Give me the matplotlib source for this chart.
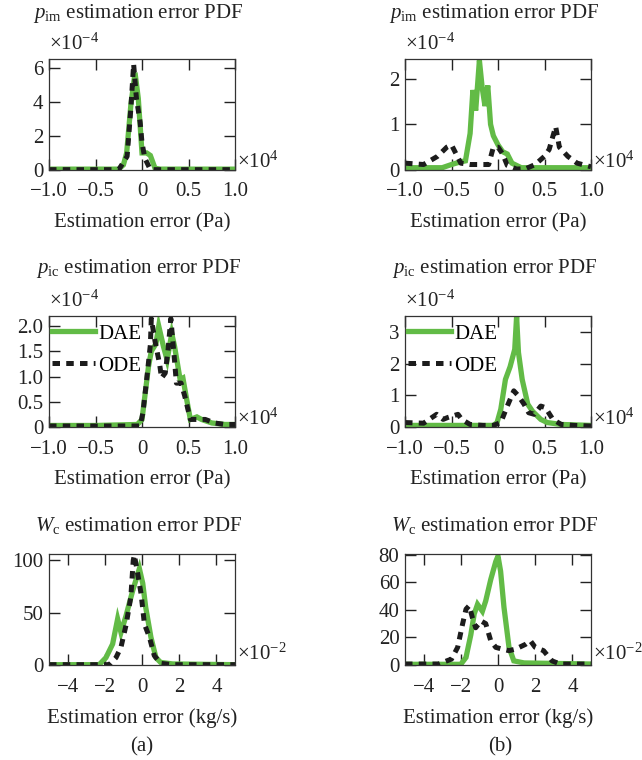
"""Estimation error PDFs, DAE vs ODE observer (panels a and b)."""

import matplotlib.pyplot as plt

plt.rcParams["font.family"] = ["Liberation Serif", "DejaVu Serif"]
plt.rcParams["mathtext.fontset"] = "custom"
plt.rcParams["mathtext.rm"] = "Liberation Serif"
plt.rcParams["mathtext.it"] = "Liberation Serif:italic"
plt.rcParams["font.size"] = 15

GREEN = "#62bb46"
BLACK = "#1c1c1c"

# ---- p_im, column (a)  (x in 1e4 Pa, y in 1e-4) ----
pim_a_dae_x = [-1.0, -0.5, -0.25, -0.2, -0.165, -0.12, -0.075, -0.04, 0.0, 0.05, 0.09, 0.14, 0.2, 0.5, 1.0]
pim_a_dae_y = [0.05, 0.05, 0.05, 0.3, 1.0, 3.8, 5.7, 4.2, 1.0, 1.0, 0.85, 0.1, 0.05, 0.05, 0.05]
pim_a_ode_x = [-1.0, -0.5, -0.25, -0.16, -0.12, -0.09, -0.06, -0.02, 0.0, 0.03, 0.09, 0.2, 0.5, 1.0]
pim_a_ode_y = [0.02, 0.02, 0.02, 0.8, 3.6, 6.2, 4.2, 2.8, 1.6, 0.7, 0.02, 0.02, 0.02, 0.02]

# ---- p_im, column (b) ----
pim_b_dae_x = [-1.0, -0.6, -0.5, -0.4, -0.35, -0.3, -0.27, -0.24, -0.2, -0.17, -0.14, -0.11, -0.08,
               -0.05, 0.0, 0.05, 0.1, 0.15, 0.25, 0.4, 1.0]
pim_b_dae_y = [0.05, 0.05, 0.12, 0.18, 0.2, 0.8, 1.75, 1.3, 2.4, 1.8, 1.4, 1.85, 1.0,
               0.75, 0.55, 0.4, 0.35, 0.15, 0.05, 0.05, 0.05]
pim_b_ode_x = [-1.0, -0.8, -0.65, -0.55, -0.5, -0.45, -0.4, -0.3, -0.2, -0.1, -0.05, 0.0, 0.05,
               0.1, 0.2, 0.3, 0.4, 0.5, 0.55, 0.62, 0.66, 0.75, 0.85, 1.0]
pim_b_ode_y = [0.15, 0.12, 0.3, 0.5, 0.55, 0.35, 0.15, 0.12, 0.12, 0.12, 0.5, 0.5, 0.35,
               0.1, 0.02, 0.03, 0.12, 0.3, 0.45, 0.95, 0.5, 0.3, 0.15, 0.07]

# ---- p_ic, column (a) ----
pic_a_dae_x = [-1.0, -0.5, -0.05, 0.0, 0.03, 0.07, 0.1, 0.15, 0.18, 0.23, 0.27, 0.32, 0.35, 0.41,
               0.44, 0.48, 0.52, 0.59, 0.64, 0.75, 0.89, 1.0]
pic_a_dae_y = [0.03, 0.03, 0.05, 0.15, 0.6, 1.2, 1.5, 1.65, 2.0, 1.6, 1.33, 1.85, 1.6, 0.94,
               0.97, 0.55, 0.15, 0.2, 0.15, 0.08, 0.05, 0.05]
pic_a_ode_x = [-1.0, -0.5, -0.02, 0.01, 0.05, 0.09, 0.1, 0.14, 0.19, 0.21, 0.25, 0.28, 0.31, 0.34,
               0.37, 0.42, 0.46, 0.52, 0.59, 0.68, 0.78, 0.89, 1.0]
pic_a_ode_y = [0.02, 0.02, 0.02, 0.28, 0.94, 1.63, 2.15, 1.7, 1.24, 0.97, 1.07, 1.53, 2.15, 1.53,
               0.87, 0.87, 0.61, 0.15, 0.15, 0.15, 0.08, 0.05, 0.05]

# ---- p_ic, column (b) ----
pic_b_dae_x = [-1.0, -0.5, -0.05, -0.01, 0.03, 0.08, 0.13, 0.18, 0.2, 0.22, 0.26, 0.32, 0.37,
               0.46, 0.53, 0.68, 1.0]
pic_b_dae_y = [0.05, 0.05, 0.05, 0.14, 0.56, 1.5, 1.9, 2.45, 3.48, 2.35, 1.5, 0.72, 0.5,
               0.24, 0.14, 0.08, 0.05]
pic_b_ode_x = [-1.0, -0.8, -0.66, -0.59, -0.54, -0.43, -0.39, -0.3, -0.16, -0.05, 0.03, 0.1,
               0.17, 0.22, 0.28, 0.33, 0.39, 0.46, 0.51, 0.59, 0.68, 0.82, 1.0]
pic_b_ode_y = [0.14, 0.12, 0.4, 0.24, 0.3, 0.4, 0.24, 0.08, 0.05, 0.05, 0.14, 0.66,
               1.14, 0.98, 0.72, 0.45, 0.4, 0.66, 0.61, 0.24, 0.08, 0.05, 0.03]

# ---- W_c, column (a)  (x in 1e-2 kg/s) ----
wc_a_dae_x = [-5.0, -2.3, -1.94, -1.58, -1.31, -1.13, -0.86, -0.5, -0.14, 0.04, 0.2, 0.48,
              0.75, 1.0, 1.65, 5.0]
wc_a_dae_y = [0.3, 0.3, 7, 20, 44, 31, 47, 71, 92, 78, 55, 26.5, 7, 2.5, 1, 0.3]
wc_a_ode_x = [-5.0, -1.76, -1.4, -1.13, -0.86, -0.6, -0.47, -0.41, -0.23, -0.05, 0.13, 0.4,
              0.66, 1.0, 1.65, 5.0]
wc_a_ode_y = [0.3, 0.3, 7, 17, 38, 65, 100, 105, 87, 68, 39, 26.5, 9, 1.6, 0.3, 0.3]

# ---- W_c, column (b) ----
wc_b_dae_x = [-5.0, -2.0, -1.72, -1.46, -1.28, -1.1, -0.84, -0.66, -0.39, -0.12, 0.0, 0.14,
              0.32, 0.59, 0.85, 1.4, 5.0]
wc_b_dae_y = [0.5, 0.5, 5.5, 22, 37, 44, 39, 46.5, 62, 75, 79, 68, 42, 13, 3, 1.5, 0.7]
wc_b_ode_x = [-5.0, -4.1, -3.2, -2.5, -2.17, -1.9, -1.72, -1.55, -1.37, -1.2, -0.92, -0.66,
              -0.39, -0.12, 0.23, 0.59, 0.94, 1.48, 1.74, 2.0, 2.45, 2.9, 3.34, 5.0]
wc_b_ode_y = [0.7, 0.7, 0.7, 4.3, 12.8, 30, 40.5, 43, 34, 27, 32, 30,
              17.6, 12.8, 11.5, 10.4, 11.5, 15, 17.6, 12.8, 10.4, 3, 0.7, 0.7]

# tick values / labels
pa_xticks = [-1.0, -0.5, 0.0, 0.5, 1.0]
pa_xticklabels = ["\u22121.0", "\u22120.5", "0", "0.5", "1.0"]
kg_xticks = [-4, -2, 0, 2, 4]
kg_xticklabels = ["\u22124", "\u22122", "0", "2", "4"]

pim_a_yticks = [0, 2, 4, 6]
pim_a_yticklabels = ["0", "2", "4", "6"]
pim_b_yticks = [0, 1, 2]
pim_b_yticklabels = ["0", "1", "2"]
pic_a_yticks = [0, 0.5, 1.0, 1.5, 2.0]
pic_a_yticklabels = ["0", "0.5", "1.0", "1.5", "2.0"]
pic_b_yticks = [0, 1, 2, 3]
pic_b_yticklabels = ["0", "1", "2", "3"]
wc_a_yticks = [0, 50, 100]
wc_a_yticklabels = ["0", "50", "100"]
wc_b_yticks = [0, 20, 40, 60, 80]
wc_b_yticklabels = ["0", "20", "40", "60", "80"]

PIM_TITLE = r"$p_{\mathrm{im}}$ estimation error PDF"
PIC_TITLE = r"$p_{\mathrm{ic}}$ estimation error PDF"
WC_TITLE = r"$W_{\mathrm{c}}$ estimation error PDF"

W, H = 642, 760
COL_LEFT = [49, 405]
COL_WIDTH = 186
ROW_TOP = [59, 316, 554]
ROW_HEIGHT = 111


def draw_panel(ax, dae, ode, xlim, ylim, xticks, xticklabels, yticks, yticklabels,
               title, title_y, xlabel, xmult, xmult_y, ymult=None, legend=False):
    ax.plot(dae[0], dae[1], color=GREEN, lw=3.8, label="DAE", solid_joinstyle="miter")
    ax.plot(ode[0], ode[1], color=BLACK, lw=3.6, dashes=(1.5, 1.25), label="ODE")
    ax.set_xlim(*xlim)
    ax.set_ylim(*ylim)
    ax.set_xticks(xticks)
    ax.set_xticklabels(xticklabels)
    ax.set_yticks(yticks)
    ax.set_yticklabels(yticklabels)
    ax.tick_params(direction="in", length=8, width=1, top=True, right=True,
                   colors="#222222", labelsize=15)
    ax.tick_params(axis="x", pad=9)
    ax.tick_params(axis="y", pad=4)
    for sp in ax.spines.values():
        sp.set_linewidth(0.9)
        sp.set_color("#333333")
    ax.set_xlabel(xlabel, labelpad=8.5, fontsize=15, color="#222222")
    ax.text(0.48, title_y, title, transform=ax.transAxes, ha="center", va="center",
            fontsize=15, color="#222222")
    ax.text(1.012, xmult_y, xmult, transform=ax.transAxes, ha="left", va="baseline",
            fontsize=15, color="#222222")
    if ymult:
        ax.text(0.0, 1.08, ymult, transform=ax.transAxes, ha="left", va="baseline",
                fontsize=15, color="#222222")
    if legend:
        ax.legend(loc="upper left", bbox_to_anchor=(0.0, 0.955), frameon=False, fontsize=15,
                  handlelength=2.05, handletextpad=0.15, borderaxespad=0.0, borderpad=0.15,
                  labelspacing=0.6)


fig = plt.figure(figsize=(W / 100, H / 100), dpi=100)
axes = {}
for r in range(3):
    for c in range(2):
        axes[(r, c)] = fig.add_axes([COL_LEFT[c] / W, 1 - (ROW_TOP[r] + ROW_HEIGHT) / H,
                                     COL_WIDTH / W, ROW_HEIGHT / H])

pa_label = "Estimation error (Pa)"
kg_label = "Estimation error (kg/s)"

draw_panel(axes[(0, 0)], (pim_a_dae_x, pim_a_dae_y), (pim_a_ode_x, pim_a_ode_y),
           (-1, 1), (0, 6.5), pa_xticks, pa_xticklabels, pim_a_yticks, pim_a_yticklabels,
           PIM_TITLE, 1.41, pa_label, r"$\times10^{4}$", 0.02, r"$\times10^{-4}$")
draw_panel(axes[(0, 1)], (pim_b_dae_x, pim_b_dae_y), (pim_b_ode_x, pim_b_ode_y),
           (-1, 1), (0, 2.43), pa_xticks, pa_xticklabels, pim_b_yticks, pim_b_yticklabels,
           PIM_TITLE, 1.41, pa_label, r"$\times10^{4}$", 0.02, r"$\times10^{-4}$")
draw_panel(axes[(1, 0)], (pic_a_dae_x, pic_a_dae_y), (pic_a_ode_x, pic_a_ode_y),
           (-1, 1), (0, 2.2), pa_xticks, pa_xticklabels, pic_a_yticks, pic_a_yticklabels,
           PIC_TITLE, 1.43, pa_label, r"$\times10^{4}$", 0.02, r"$\times10^{-4}$", legend=True)
draw_panel(axes[(1, 1)], (pic_b_dae_x, pic_b_dae_y), (pic_b_ode_x, pic_b_ode_y),
           (-1, 1), (0, 3.5), pa_xticks, pa_xticklabels, pic_b_yticks, pic_b_yticklabels,
           PIC_TITLE, 1.43, pa_label, r"$\times10^{4}$", 0.02, r"$\times10^{-4}$", legend=True)
draw_panel(axes[(2, 0)], (wc_a_dae_x, wc_a_dae_y), (wc_a_ode_x, wc_a_ode_y),
           (-5, 5), (0, 106), kg_xticks, kg_xticklabels, wc_a_yticks, wc_a_yticklabels,
           WC_TITLE, 1.26, kg_label, r"$\times10^{-2}$", 0.045)
draw_panel(axes[(2, 1)], (wc_b_dae_x, wc_b_dae_y), (wc_b_ode_x, wc_b_ode_y),
           (-5, 5), (0, 80.5), kg_xticks, kg_xticklabels, wc_b_yticks, wc_b_yticklabels,
           WC_TITLE, 1.26, kg_label, r"$\times10^{-2}$", 0.045)

fig.text(142 / W, 1 - 747 / H, "(a)", ha="center", va="center", fontsize=15, color="#222222")
fig.text(500 / W, 1 - 747 / H, "(b)", ha="center", va="center", fontsize=15, color="#222222")

fig.savefig("out.png", dpi=100)
plt.close(fig)
